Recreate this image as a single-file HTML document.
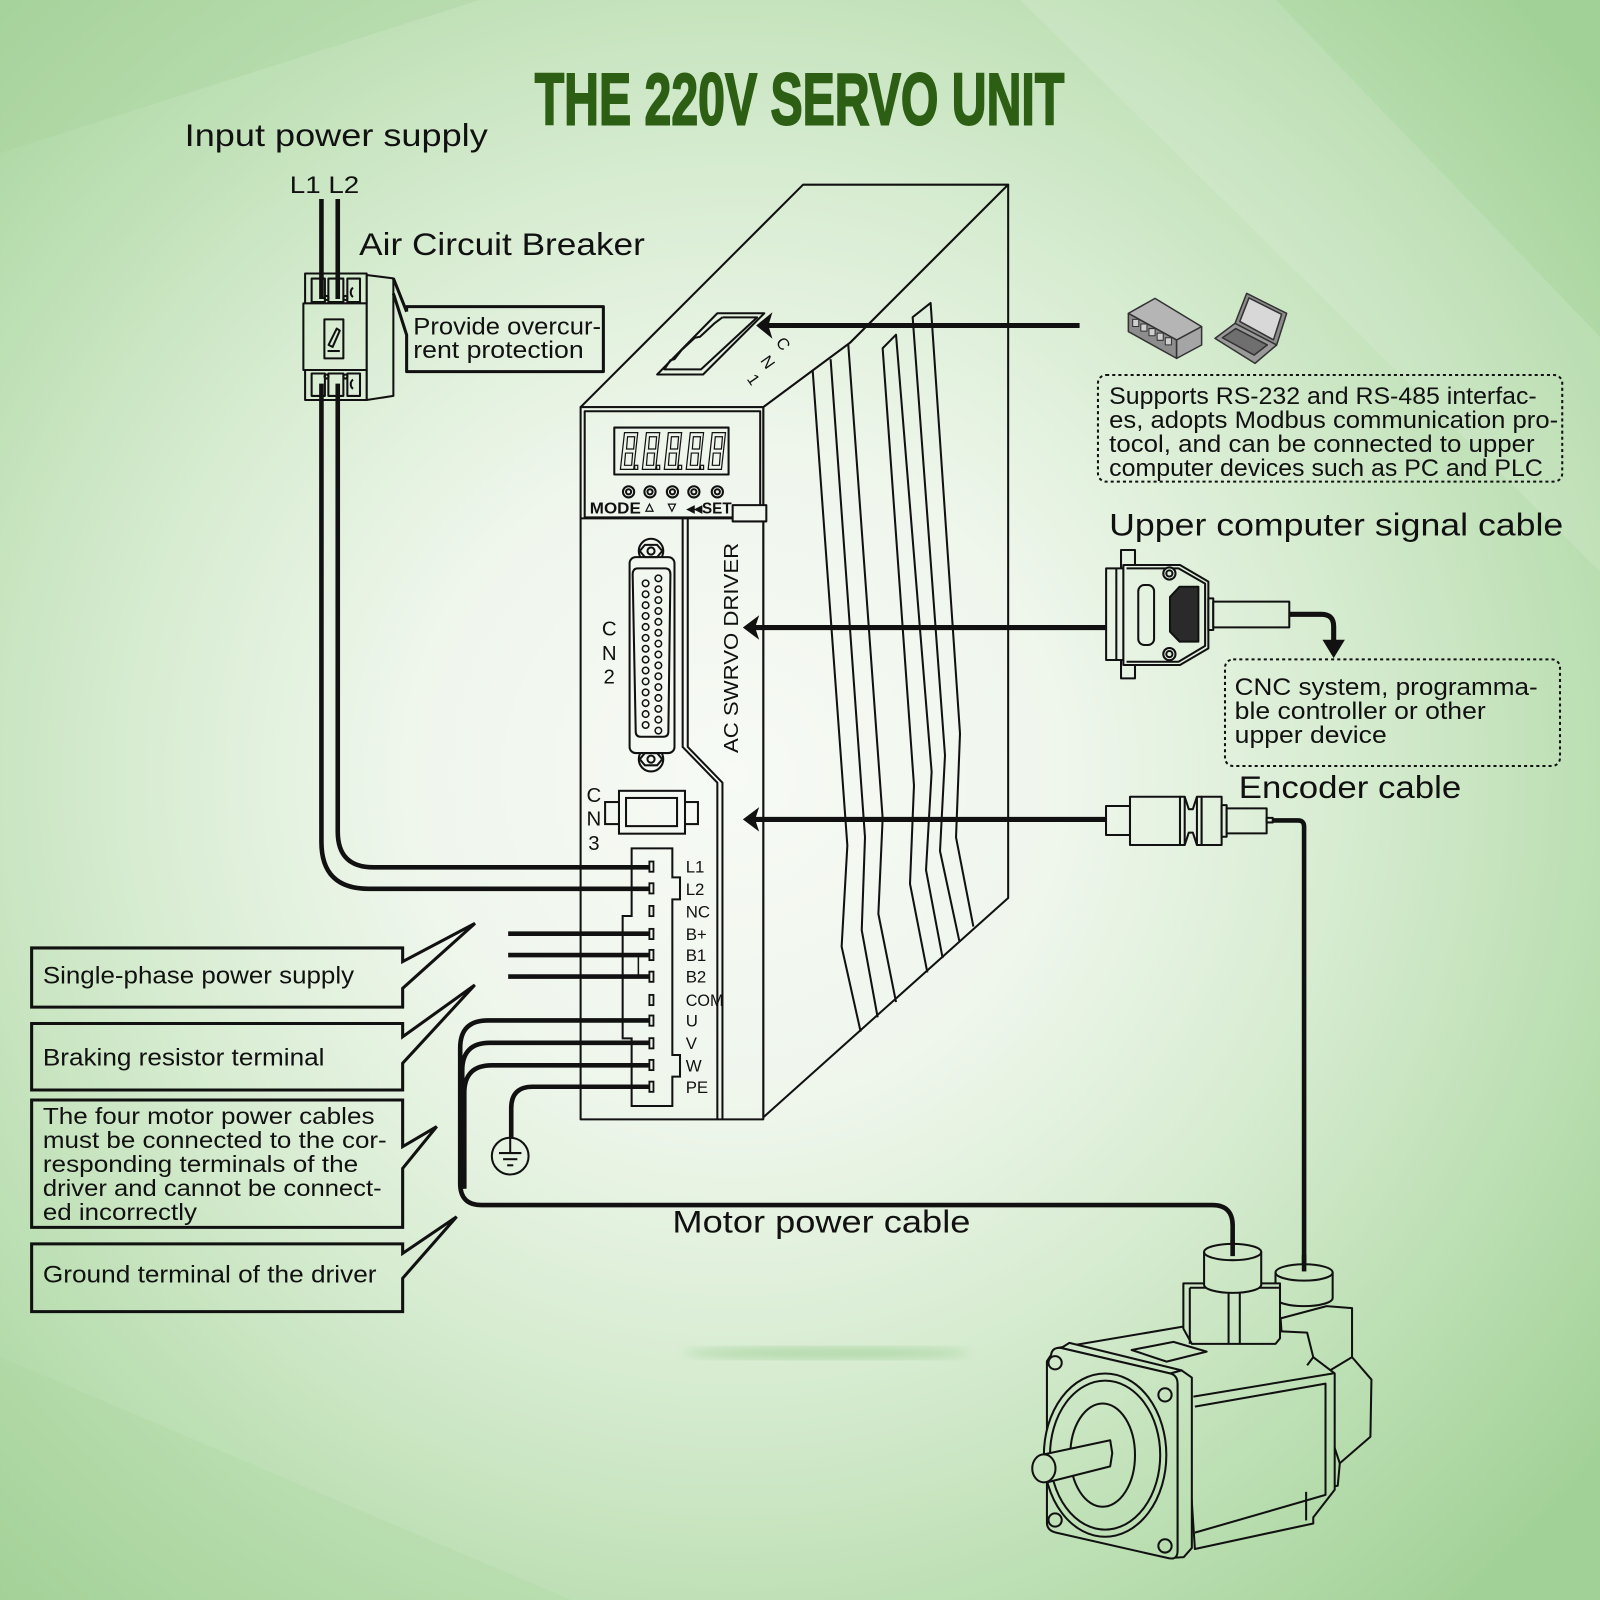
<!DOCTYPE html>
<html><head><meta charset="utf-8"><style>
html,body{margin:0;padding:0;background:#e8f3e4;}
svg{display:block;}
text{font-family:"Liberation Sans",sans-serif;fill:#111;}
</style></head><body>
<svg xmlns="http://www.w3.org/2000/svg" width="1600" height="1600" viewBox="0 0 1568 1568">
<defs>
<radialGradient id="bg" gradientUnits="userSpaceOnUse" cx="720" cy="760" r="1080">
<stop offset="0" stop-color="#f7faf5"/>
<stop offset="0.3" stop-color="#eff6ec"/>
<stop offset="0.55" stop-color="#d7ecd1"/>
<stop offset="0.78" stop-color="#bcdfb3"/>
<stop offset="1" stop-color="#a2d197"/>
</radialGradient>
<filter id="blur"><feGaussianBlur stdDeviation="5"/></filter>
</defs>
<rect width="1568" height="1568" fill="url(#bg)"/>
<polygon points="0,0 470,0 0,150" fill="#a6d29a" opacity="0.35"/>
<polygon points="1000,0 1250,0 1568,330 1568,560" fill="#ffffff" opacity="0.13"/>
<polygon points="0,1330 560,1568 0,1568" fill="#a6d29a" opacity="0.25"/>
<ellipse cx="810" cy="1326" rx="140" ry="6" fill="#8cc683" opacity="0.5" filter="url(#blur)"/>

<!-- Title -->
<text x="524" y="122" font-family="'Liberation Sans Narrow','Liberation Sans',sans-serif" font-weight="bold" font-size="72" textLength="519" lengthAdjust="spacingAndGlyphs" style="fill:#2c5f14" stroke="#2c5f14" stroke-width="2">THE 220V SERVO UNIT</text>

<!-- Labels -->
<text x="181" y="143" font-size="31" textLength="297" lengthAdjust="spacingAndGlyphs">Input power supply</text>
<text x="284" y="189" font-size="24" textLength="68" lengthAdjust="spacingAndGlyphs">L1 L2</text>
<text x="352" y="250" font-size="31" textLength="280" lengthAdjust="spacingAndGlyphs">Air Circuit Breaker</text>

<g stroke="#111" stroke-width="2" fill="none" stroke-linejoin="round">
<!-- Breaker -->
<polygon points="359.3,269.5 385.5,272.8 385.5,388 359.3,392" fill="url(#bg)"/>
<rect x="299" y="268" width="60.3" height="29.3" fill="url(#bg)"/>
<rect x="297.3" y="297.3" width="62" height="65.3" fill="url(#bg)"/>
<rect x="299" y="362.6" width="60.3" height="29.4" fill="url(#bg)"/>
<rect x="305.4" y="273" width="13" height="23" fill="url(#bg)"/>
<rect x="321.8" y="273" width="14.7" height="23" fill="url(#bg)"/>
<rect x="340.4" y="273" width="12.4" height="23"/>
<path d="M346,282 a4,5 0 0 0 0,9"/>
<circle cx="320" cy="292" r="2"/><circle cx="338.5" cy="292" r="2"/>
<rect x="305.4" y="366" width="13" height="22" fill="url(#bg)"/>
<rect x="321.8" y="366" width="14.7" height="22" fill="url(#bg)"/>
<rect x="340.4" y="366" width="12.4" height="22"/>
<circle cx="320" cy="369" r="2"/><circle cx="338.5" cy="369" r="2"/>
<path d="M346,372 a4,5 0 0 0 0,9"/>
<rect x="317.9" y="313" width="18.6" height="38.2"/>
<polygon points="322,338 330,322 333,324 326,340" />
<line x1="321" y1="344" x2="333" y2="344"/>
<!-- breaker label box -->
<path d="M398.5,305.4 V300.5 H591.3 V364.2 H398.5 V328.3 L385.5,287.5 M398.5,305.4 L385.5,272.8" stroke-width="3"/>
</g>
<text x="405" y="328" font-size="24" textLength="184" lengthAdjust="spacingAndGlyphs">Provide overcur-</text>
<text x="405" y="351" font-size="24" textLength="167" lengthAdjust="spacingAndGlyphs">rent protection</text>

<!-- Driver -->
<g stroke="#111" stroke-width="2" fill="none" stroke-linejoin="round">
<polygon points="569,399 748,399 833,336 988,181 787,181" fill="url(#bg)"/>
<polygon points="748,399 833,336 988,181 988,880 748,1095" fill="url(#bg)"/>
<rect x="569" y="399" width="179" height="698" fill="url(#bg)"/>
<!-- CN1 slot -->
<polygon points="703,307 749,307 689,367 644,367"/>
<polyline points="708,311 742,311 687,362 651,362 657,353 661,352 668,343 681,331 686,330 700,317 708,311"/>
<!-- heat sink stripes -->
<polyline points="796.4,362.8 830.4,828.6 824.8,927.7 843.4,1011"/>
<polyline points="814.0,352.0 847.7,820.6 844.5,911.6 860.1,997"/>
<polyline points="831.3,337.6 865.0,801.9 860.8,895.6 878.1,982"/>
<polyline points="908.8,953 891.8,866.1 895.7,769.7 865.0,341.3 878.1,328.0 913.0,756.4 907.5,852.7 923.8,939"/>
<polyline points="940.1,922 921.2,834.0 926.1,740.3 894.4,310.8 912.0,296.9 940.8,718.9 936.9,820.6 953.9,908"/>
<!-- display section -->
<rect x="573" y="403" width="172" height="104"/>
<line x1="569" y1="508" x2="748" y2="508"/>
<rect x="602" y="419" width="112" height="46"/>
<rect x="718" y="495" width="33" height="16" fill="url(#bg)"/>
<circle cx="616" cy="482" r="5.5"/><circle cx="616" cy="482" r="2.5"/>
<circle cx="637" cy="482" r="5.5"/><circle cx="637" cy="482" r="2.5"/>
<circle cx="659" cy="482" r="5.5"/><circle cx="659" cy="482" r="2.5"/>
<circle cx="680" cy="482" r="5.5"/><circle cx="680" cy="482" r="2.5"/>
<circle cx="703" cy="482" r="5.5"/><circle cx="703" cy="482" r="2.5"/>
<!-- divider -->
<polyline points="669,508 669,732 703,767 703,1097"/>
<polyline points="674,508 674,732 708,767 708,1097"/>
<!-- CN2 -->
<circle cx="638" cy="540" r="12" fill="url(#bg)"/>
<circle cx="638" cy="744" r="12" fill="url(#bg)"/>
<rect x="617" y="546" width="44" height="192" rx="6" fill="url(#bg)"/>
<polygon points="632,534 644,534 649,540 644,546 632,546 627,540"/>
<circle cx="638" cy="540" r="3.5"/>
<polygon points="632,738 644,738 649,744 644,750 632,750 627,744"/>
<circle cx="638" cy="744" r="3.5"/>
<path d="M625,557 H652 Q657,557 657,563 L655,717 Q655,722 650,722 H628 Q623,722 623,717 L620,563 Q620,557 625,557 Z"/>
</g>
<!-- 7-seg digits -->
<g stroke="#111" stroke-width="1.2" fill="none" stroke-linejoin="miter">
<polygon points="612,424 625,424 621,460 608,460"/><polygon points="615,428 622,428 621,440 614,440"/><polygon points="613,444 620,444 619,456 612,456"/><rect x="622" y="456" width="3" height="4"/>
<polygon points="633.5,424 646.5,424 642.5,460 629.5,460"/><polygon points="636.5,428 643.5,428 642.5,440 635.5,440"/><polygon points="634.5,444 641.5,444 640.5,456 633.5,456"/><rect x="643.5" y="456" width="3" height="4"/>
<polygon points="655,424 668,424 664,460 651,460"/><polygon points="658,428 665,428 664,440 657,440"/><polygon points="656,444 663,444 662,456 655,456"/><rect x="665" y="456" width="3" height="4"/>
<polygon points="676.5,424 689.5,424 685.5,460 672.5,460"/><polygon points="679.5,428 686.5,428 685.5,440 678.5,440"/><polygon points="677.5,444 684.5,444 683.5,456 676.5,456"/><rect x="686.5" y="456" width="3" height="4"/>
<polygon points="698,424 711,424 707,460 694,460"/><polygon points="701,428 708,428 707,440 700,440"/><polygon points="699,444 706,444 705,456 698,456"/>
</g>
<g stroke="#111" stroke-width="1.5" fill="none">
<circle cx="632.7" cy="571.7" r="3.2"/><circle cx="632.7" cy="582.4" r="3.2"/><circle cx="632.7" cy="593.1" r="3.2"/><circle cx="632.7" cy="603.7" r="3.2"/><circle cx="632.7" cy="614.4" r="3.2"/><circle cx="632.7" cy="625.1" r="3.2"/><circle cx="632.7" cy="635.8" r="3.2"/><circle cx="632.7" cy="646.4" r="3.2"/><circle cx="632.7" cy="657.1" r="3.2"/><circle cx="632.7" cy="667.8" r="3.2"/><circle cx="632.7" cy="678.5" r="3.2"/><circle cx="632.7" cy="689.1" r="3.2"/><circle cx="632.7" cy="699.8" r="3.2"/><circle cx="632.7" cy="710.5" r="3.2"/>
<circle cx="645.2" cy="566.8" r="3.2"/><circle cx="645.2" cy="577.5" r="3.2"/><circle cx="645.2" cy="588.1" r="3.2"/><circle cx="645.2" cy="598.8" r="3.2"/><circle cx="645.2" cy="609.4" r="3.2"/><circle cx="645.2" cy="620.1" r="3.2"/><circle cx="645.2" cy="630.8" r="3.2"/><circle cx="645.2" cy="641.4" r="3.2"/><circle cx="645.2" cy="652.1" r="3.2"/><circle cx="645.2" cy="662.7" r="3.2"/><circle cx="645.2" cy="673.4" r="3.2"/><circle cx="645.2" cy="684.0" r="3.2"/><circle cx="645.2" cy="694.7" r="3.2"/><circle cx="645.2" cy="705.3" r="3.2"/><circle cx="645.2" cy="716.0" r="3.2"/>
</g>
<g stroke="#111" stroke-width="2" fill="none">
<!-- CN3 -->
<rect x="593" y="786" width="14" height="21.6"/>
<rect x="671" y="786" width="13" height="21.6"/>
<rect x="606.6" y="775" width="64.7" height="42" fill="url(#bg)"/>
<rect x="613.5" y="782" width="50" height="27.6"/>
<!-- terminal block -->
<polygon points="619,831.4 658.9,831.4 658.9,859.8 666.4,859.8 666.4,881.4 658.9,881.4 658.9,1033.9 666.4,1033.9 666.4,1055.1 658.9,1055.1 658.9,1083.9 619,1083.9 619,1017.6 610.2,1017.6 610.2,897.7 619,897.7 Z"/>
<line x1="625.6" y1="936" x2="625.6" y2="957" stroke-width="1.5"/>
</g>
<g fill="url(#bg)" stroke="#111" stroke-width="1.8">
<rect x="636.4" y="844.3" width="4" height="10"/><rect x="636.4" y="865.6" width="4" height="10"/><rect x="636.4" y="887.8" width="4" height="10"/><rect x="636.4" y="910.3" width="4" height="10"/><rect x="636.4" y="930.9" width="4" height="10"/><rect x="636.4" y="952.2" width="4" height="10"/><rect x="636.4" y="975" width="4" height="10"/><rect x="636.4" y="995.2" width="4" height="10"/><rect x="636.4" y="1017.4" width="4" height="10"/><rect x="636.4" y="1038.7" width="4" height="10"/><rect x="636.4" y="1060" width="4" height="10"/>
</g>
<g font-size="16.5">
<text x="672" y="855">L1</text><text x="672" y="877">L2</text><text x="672" y="899">NC</text><text x="672" y="921">B+</text><text x="672" y="942">B1</text><text x="672" y="963">B2</text><text x="672" y="986" textLength="37" lengthAdjust="spacingAndGlyphs">COM</text><text x="672" y="1006">U</text><text x="672" y="1028">V</text><text x="672" y="1050">W</text><text x="672" y="1071">PE</text>
</g>
<!-- driver texts -->
<text x="578" y="503" font-size="15" font-weight="bold" textLength="50" lengthAdjust="spacingAndGlyphs">MODE</text>
<polygon points="633,501 640,501 636.5,494" fill="none" stroke="#111" stroke-width="1.2"/>
<polygon points="655,494 662,494 658.5,501" fill="none" stroke="#111" stroke-width="1.2"/>
<text x="673" y="503" font-size="15" font-weight="bold" textLength="44" lengthAdjust="spacingAndGlyphs">◂◂SET</text>
<text x="597" y="623" font-size="20" text-anchor="middle">C</text>
<text x="597" y="647" font-size="20" text-anchor="middle">N</text>
<text x="597" y="670" font-size="20" text-anchor="middle">2</text>
<text x="582" y="786" font-size="20" text-anchor="middle">C</text>
<text x="582" y="809" font-size="20" text-anchor="middle">N</text>
<text x="582" y="833" font-size="20" text-anchor="middle">3</text>
<text transform="translate(723,738) rotate(-90)" font-size="20" textLength="206" lengthAdjust="spacingAndGlyphs">AC  SWRVO  DRIVER</text>
<text transform="translate(763,340) rotate(55)" font-size="16" text-anchor="middle">C</text>
<text transform="translate(748,358) rotate(55)" font-size="16" text-anchor="middle">N</text>
<text transform="translate(734,375) rotate(55)" font-size="16" text-anchor="middle">1</text>

<!-- Wires -->
<g stroke="#111" stroke-width="4.5" fill="none" stroke-linecap="butt">
<line x1="315" y1="195" x2="315" y2="293"/>
<line x1="331" y1="195" x2="331" y2="293"/>
<path d="M331,376 V815 Q331,850 366,850 H637"/>
<path d="M315,376 V825 Q315,871 361,871 H637"/>
<line x1="498" y1="915" x2="637" y2="915"/>
<line x1="498" y1="936" x2="637" y2="936"/>
<line x1="498" y1="957" x2="637" y2="957"/>
<path d="M637,1000 H478 Q451,1000 451,1027 V1160 Q451,1181 472,1181 H1188 Q1208,1181 1208,1201 V1231"/>
<path d="M637,1022 H480 Q453,1022 453,1049 V1165"/>
<path d="M637,1044 H482 Q455,1044 455,1071 V1165"/>
<path d="M637,1065 H522 Q501,1065 501,1086 V1115"/>
<path d="M1246,804 H1272 Q1278,804 1278,810 V1246"/>
<path d="M1263,602 H1295 Q1307,602 1307,614 V630" stroke-width="5"/>
</g>
<!-- ground -->
<g stroke="#111" stroke-width="2" fill="none">
<circle cx="500" cy="1133" r="18"/>
<line x1="500" y1="1115" x2="500" y2="1130"/>
<line x1="489" y1="1130" x2="511" y2="1130"/>
<line x1="493" y1="1136" x2="507" y2="1136"/>
<line x1="497" y1="1142" x2="503" y2="1142"/>
</g>
<!-- arrows -->
<g stroke="#111" stroke-width="5">
<line x1="752" y1="319" x2="1058" y2="319"/>
<line x1="738" y1="615" x2="1085" y2="615"/>
<line x1="738" y1="803" x2="1085" y2="803"/>
</g>
<g fill="#111">
<polygon points="741,319 757,306 753,319 757,332"/>
<polygon points="728,615 744,603 740,615 744,627"/>
<polygon points="728,803 744,791 740,803 744,815"/>
<polygon points="1296,627 1318,627 1307,645"/>
</g>

<!-- DB connector -->
<g stroke="#111" stroke-width="2" fill="url(#bg)" stroke-linejoin="round">
<rect x="1098.6" y="539" width="13.7" height="18"/>
<rect x="1098.6" y="646.8" width="13.7" height="18"/>
<rect x="1084" y="557" width="17" height="89.8"/>
<line x1="1094" y1="557" x2="1094" y2="646.8"/>
<polygon points="1100.9,553.7 1156.4,553.7 1184.2,570 1184.2,635.4 1156.4,651.7 1100.9,651.7"/>
<polyline points="1104,557 1155,557 1181,572 1181,633 1155,648.5 1104,648.5" fill="none"/>
<rect x="1115.5" y="573.3" width="15.5" height="58.8" rx="6"/>
<circle cx="1146" cy="562" r="6"/><circle cx="1146" cy="562" r="3"/>
<circle cx="1146" cy="641" r="6"/><circle cx="1146" cy="641" r="3"/>
<polygon points="1146.6,585 1156,575 1174.4,575 1174.4,628.8 1156,628.8 1146.6,619" fill="#2a2a2a"/>
<rect x="1184.2" y="586.4" width="4.8" height="31"/>
<rect x="1189" y="589.6" width="74.5" height="25.2"/>
</g>
<!-- Encoder connector -->
<g stroke="#111" stroke-width="2" fill="url(#bg)" stroke-linejoin="round">
<rect x="1083.9" y="789.9" width="23.5" height="28.4"/>
<rect x="1107.4" y="780.8" width="49" height="47.3"/>
<polygon points="1156.4,780.8 1161,780.8 1165,793 1169,793 1173,780.8 1177.6,780.8 1177.6,828.1 1173,828.1 1169,816 1165,816 1161,828.1 1156.4,828.1"/>
<line x1="1161" y1="780.8" x2="1161" y2="828.1"/>
<line x1="1173" y1="780.8" x2="1173" y2="828.1"/>
<rect x="1177.6" y="780.8" width="19.6" height="47.3"/>
<rect x="1197.2" y="789" width="4.9" height="31"/>
<rect x="1202.1" y="792.2" width="39.2" height="24.5"/>
<rect x="1241.3" y="801.5" width="6" height="4.5"/>
</g>

<!-- Icons -->
<g stroke="#333" stroke-width="1.5" stroke-linejoin="round">
<polygon points="1105.8,307.1 1131.9,292.4 1177.6,320.1 1153.1,333.2" fill="#b5b5b5"/>
<polygon points="1105.8,307.1 1153.1,333.2 1153.1,351.2 1105.8,325" fill="#8d8d8d"/>
<polygon points="1153.1,333.2 1177.6,320.1 1177.6,338.1 1153.1,351.2" fill="#a5a5a5"/>
<g fill="#cfcfcf" stroke-width="1"><rect x="1110" y="313" width="6" height="7"/><rect x="1118" y="317.5" width="6" height="7"/><rect x="1126" y="322" width="6" height="7"/><rect x="1134" y="326.5" width="6" height="7"/><rect x="1142" y="331" width="6" height="7"/></g>
<polygon points="1210.3,316.9 1221.7,287.5 1260.9,307.1 1251.1,338.1" fill="#8d8d8d"/>
<polygon points="1215,315 1224,292 1256,308 1248,333" fill="#d8d8d8"/>
<polygon points="1190.7,331.6 1210.3,316.9 1251.1,338.1 1229.9,356.1" fill="#9a9a9a"/>
<polygon points="1198,331 1211,322 1242,338 1229,348" fill="#6f6f6f"/>
</g>

<!-- Right texts -->
<rect x="1076" y="367.5" width="455" height="104.5" rx="8" fill="none" stroke="#111" stroke-width="2" stroke-dasharray="3,3"/>
<text x="1087" y="396" font-size="23.5" textLength="419" lengthAdjust="spacingAndGlyphs">Supports RS-232 and RS-485 interfac-</text>
<text x="1087" y="419.5" font-size="23.5" textLength="440" lengthAdjust="spacingAndGlyphs">es, adopts Modbus communication pro-</text>
<text x="1087" y="443" font-size="23.5" textLength="417" lengthAdjust="spacingAndGlyphs">tocol, and can be connected to upper</text>
<text x="1087" y="466.5" font-size="23.5" textLength="425" lengthAdjust="spacingAndGlyphs">computer devices such as PC and PLC</text>
<text x="1087" y="525" font-size="31" textLength="445" lengthAdjust="spacingAndGlyphs">Upper computer signal cable</text>
<rect x="1200.5" y="646.2" width="328.3" height="104.5" rx="8" fill="none" stroke="#111" stroke-width="2" stroke-dasharray="3,3"/>
<text x="1210" y="681" font-size="23.5" textLength="297" lengthAdjust="spacingAndGlyphs">CNC system, programma-</text>
<text x="1210" y="704.5" font-size="23.5" textLength="246" lengthAdjust="spacingAndGlyphs">ble controller or other</text>
<text x="1210" y="728" font-size="23.5" textLength="149" lengthAdjust="spacingAndGlyphs">upper device</text>
<text x="1214" y="782" font-size="31" textLength="218" lengthAdjust="spacingAndGlyphs">Encoder cable</text>
<text x="659" y="1208" font-size="31" textLength="292" lengthAdjust="spacingAndGlyphs">Motor power cable</text>

<!-- Left callout boxes -->
<g stroke="#111" stroke-width="3" fill="none" stroke-linejoin="miter">
<path d="M394.6,942.4 V929 H31 V987 H394.6 V968.6 L465.5,904.9 Z"/>
<path d="M394.6,1016 V1003 H31 V1068.2 H394.6 V1042 L465.3,965.3 Z"/>
<path d="M394.6,1123.7 V1078 H31 V1202.8 H394.6 V1145 L428,1104 Z"/>
<path d="M394.6,1228.3 V1219 H31 V1285.4 H394.6 V1252.7 L447.5,1192.4 Z"/>
</g>
<text x="42" y="964" font-size="24" textLength="305" lengthAdjust="spacingAndGlyphs">Single-phase power supply</text>
<text x="42" y="1044" font-size="24" textLength="276" lengthAdjust="spacingAndGlyphs">Braking resistor terminal</text>
<text x="42" y="1101.5" font-size="23" textLength="325" lengthAdjust="spacingAndGlyphs">The four motor power cables</text>
<text x="42" y="1125" font-size="23" textLength="337" lengthAdjust="spacingAndGlyphs">must be connected to the cor-</text>
<text x="42" y="1148.5" font-size="23" textLength="309" lengthAdjust="spacingAndGlyphs">responding terminals of the</text>
<text x="42" y="1172" font-size="23" textLength="332" lengthAdjust="spacingAndGlyphs">driver and cannot be connect-</text>
<text x="42" y="1195.5" font-size="23" textLength="151" lengthAdjust="spacingAndGlyphs">ed incorrectly</text>
<text x="42" y="1257" font-size="24" textLength="327" lengthAdjust="spacingAndGlyphs">Ground terminal of the driver</text>

<!-- Motor -->
<g stroke="#111" stroke-width="2" fill="url(#bg)" stroke-linejoin="round">
<polygon points="1255,1292 1300,1280 1325,1282 1325,1330 1344,1352 1343,1408 1313,1434 1311,1456 1288,1460 1287,1330 1257,1322"/>
<line x1="1313" y1="1434" x2="1300" y2="1395" fill="none"/>
<line x1="1325" y1="1330" x2="1300" y2="1345" fill="none"/>
<path d="M1250,1247 V1272 A28,8 0 0 0 1306,1272 V1247"/>
<ellipse cx="1278" cy="1247" rx="28" ry="8"/>
<polygon points="1036,1321 1160,1300 1281,1306 1287,1330 1308,1346 1308,1460 1287,1487 1287,1493 1171,1518 1160,1350"/>
<polyline points="1169.5,1368.7 1306.7,1345.9" fill="none"/>
<polyline points="1171,1378.5 1299,1356 1299,1465 1171,1502" fill="none"/>
<line x1="1280" y1="1462" x2="1280" y2="1490" fill="none"/>
<line x1="1287" y1="1330" x2="1281" y2="1338" fill="none"/>
<polygon points="1109,1323 1150,1315 1182.5,1324.6 1143.3,1334.4"/>
<polygon points="1159.7,1257.7 1254.4,1257.7 1254.4,1311.6 1250,1317 1168,1317 1159.7,1302"/>
<line x1="1166" y1="1262" x2="1254.4" y2="1262" fill="none"/>
<line x1="1166" y1="1262" x2="1166" y2="1317" fill="none"/>
<line x1="1204" y1="1262" x2="1204" y2="1317" fill="none"/>
<line x1="1215" y1="1262" x2="1215" y2="1317" fill="none"/>
<path d="M1180,1227 V1259 A28,8 0 0 0 1236,1259 V1227"/>
<ellipse cx="1208" cy="1227" rx="28" ry="8"/>
<polygon points="1040,1321 1048,1316 1158,1343 1147,1346"/>
<polygon points="1147,1346 1158,1343 1168,1350 1168,1517 1160,1526 1145,1527 1154,1520 1154,1356"/>
<path d="M1030,1328 Q1031,1320 1040,1321 L1147,1346 Q1154,1348 1154,1356 L1154,1520 Q1154,1529 1145,1527 L1035,1502 Q1026,1500 1026,1492 L1026,1334 Z"/>
<circle cx="1034" cy="1335.5" r="6.5"/>
<circle cx="1141.7" cy="1367" r="6.5"/>
<circle cx="1034" cy="1489.6" r="6.5"/>
<circle cx="1141.7" cy="1515" r="6.5"/>
<ellipse cx="1083" cy="1426" rx="60" ry="80"/>
<ellipse cx="1083" cy="1426" rx="54" ry="73"/>
<ellipse cx="1080.6" cy="1426" rx="31.7" ry="50.6"/>
<polygon points="1023,1425.3 1088,1411.5 1090,1424 1088,1437 1026,1452.7"/>
<ellipse cx="1023" cy="1439" rx="11.4" ry="13.7"/>
</g>
<g stroke="#111" stroke-width="4.5" fill="none">
<line x1="1208" y1="1215" x2="1208" y2="1231"/>
<line x1="1278" y1="1230" x2="1278" y2="1246"/>
</g>
</svg>
</body></html>
